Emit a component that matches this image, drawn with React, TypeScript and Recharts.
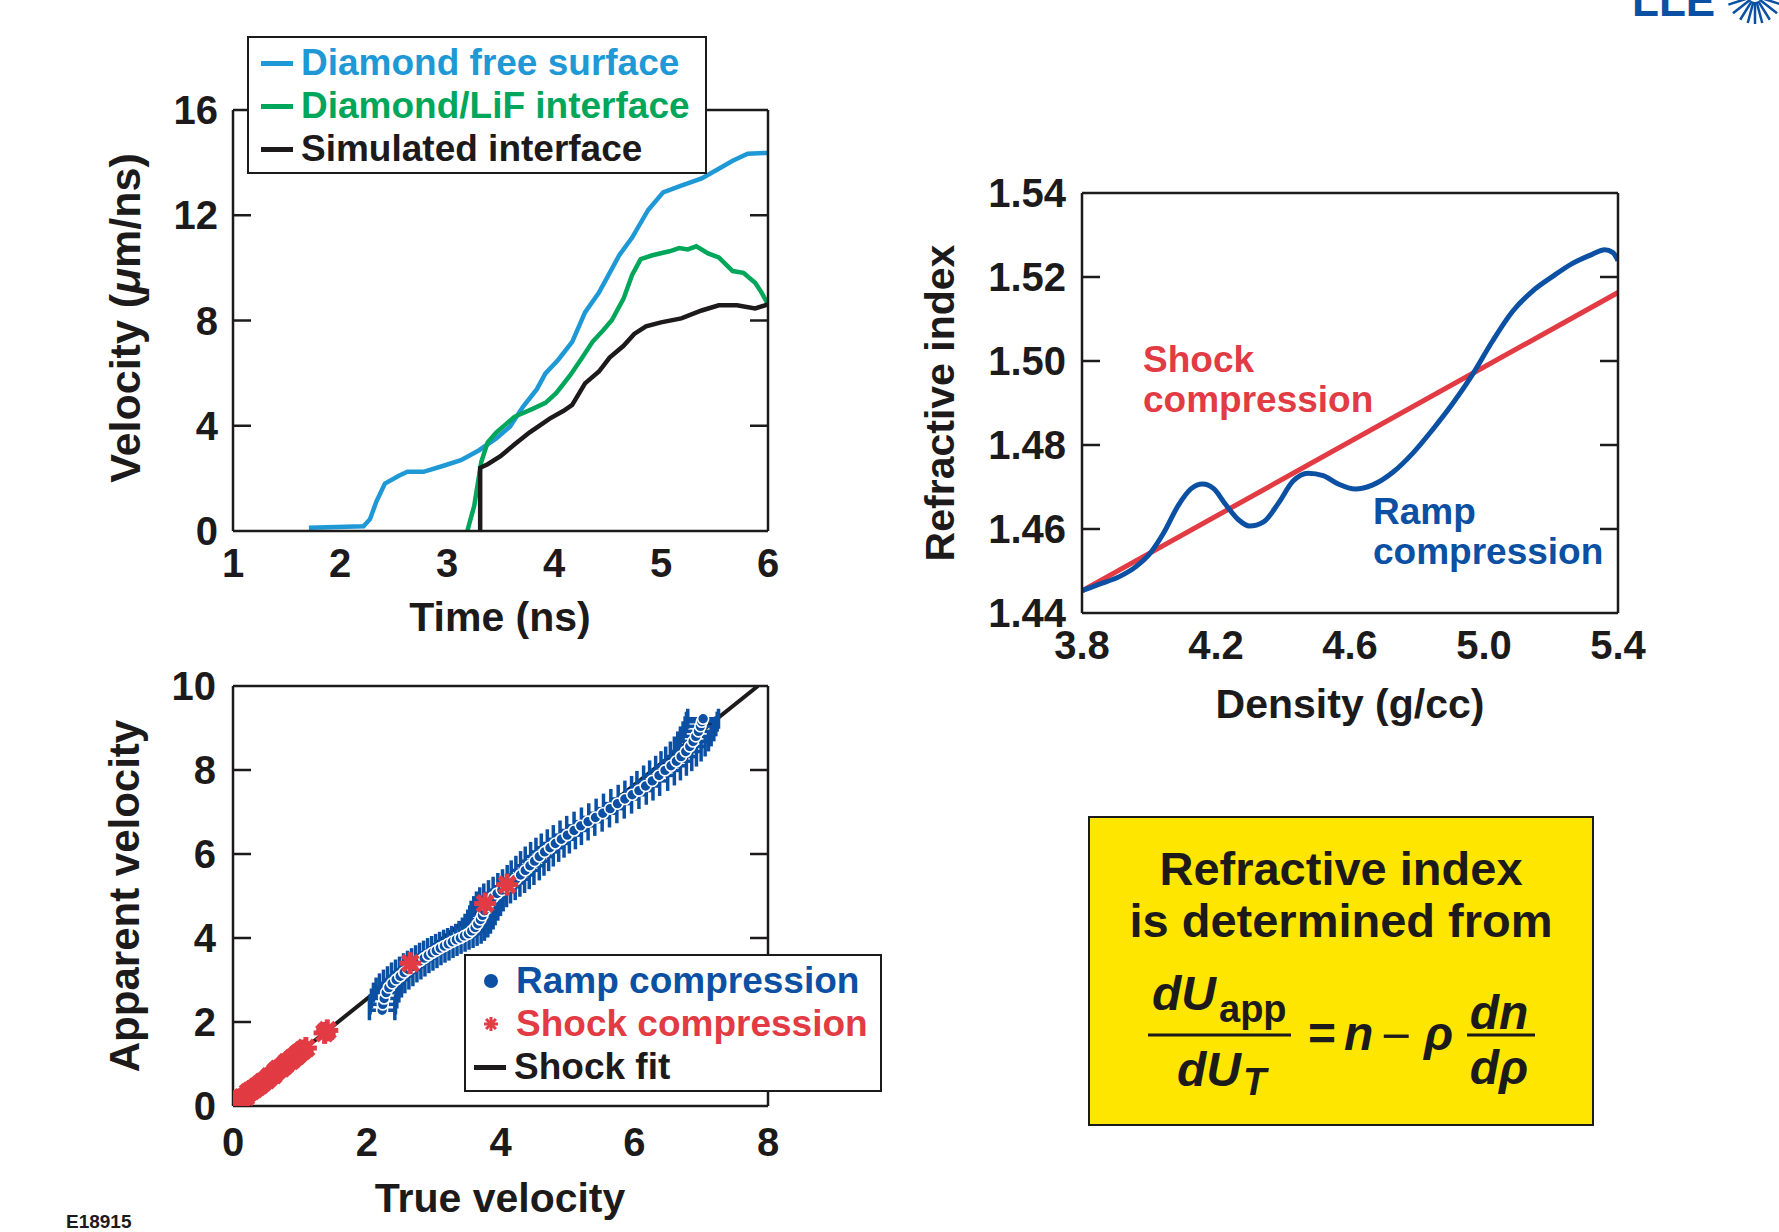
import React from "react";
import { LineChart, Line, XAxis, YAxis, ComposedChart, Scatter, ErrorBar } from "recharts";

// ---- top left: velocity histories ----
const freeSurfaceT = [1.71, 2.22, 2.28, 2.34, 2.42, 2.55, 2.63, 2.78, 2.96, 3.13, 3.3, 3.46, 3.59, 3.71, 3.84, 3.92, 4.04, 4.17, 4.29, 4.42, 4.5, 4.61, 4.73, 4.88, 5.02, 5.17, 5.38, 5.54, 5.67, 5.81, 6.0];
const freeSurfaceV = [0.12, 0.18, 0.45, 1.12, 1.8, 2.1, 2.25, 2.25, 2.47, 2.69, 3.07, 3.52, 3.97, 4.72, 5.39, 5.99, 6.51, 7.19, 8.31, 9.06, 9.66, 10.48, 11.15, 12.2, 12.87, 13.1, 13.4, 13.77, 14.07, 14.34, 14.37];
const lifT = [3.19, 3.255, 3.32, 3.38, 3.46, 3.63, 3.8, 3.92, 4.02, 4.15, 4.25, 4.36, 4.46, 4.54, 4.65, 4.73, 4.81, 4.92, 5.08, 5.17, 5.25, 5.33, 5.44, 5.54, 5.67, 5.77, 5.88, 5.94, 6.0];
const lifV = [0, 0.97, 2.62, 3.37, 3.74, 4.34, 4.64, 4.87, 5.24, 5.91, 6.51, 7.19, 7.63, 8.01, 8.83, 9.73, 10.33, 10.48, 10.63, 10.75, 10.7, 10.82, 10.55, 10.4, 9.88, 9.81, 9.43, 9.06, 8.61];
const simT = [3.31, 3.31, 3.38, 3.5, 3.63, 3.77, 3.96, 4.09, 4.17, 4.29, 4.42, 4.52, 4.65, 4.75, 4.86, 5.0, 5.19, 5.38, 5.54, 5.71, 5.88, 6.0];
const simV = [0, 2.4, 2.54, 2.84, 3.29, 3.74, 4.27, 4.57, 4.79, 5.61, 6.06, 6.59, 7.04, 7.49, 7.78, 7.93, 8.08, 8.38, 8.58, 8.58, 8.46, 8.61];
const timeTicks = [1, 2, 3, 4, 5, 6];
const velTicks = [0, 4, 8, 12, 16];

// ---- top right: refractive index vs density ----
const rampDensity = [3.8, 3.85, 3.91, 3.962, 4.007, 4.044, 4.088, 4.126, 4.16, 4.193, 4.23, 4.267, 4.3, 4.342, 4.386, 4.43, 4.475, 4.52, 4.565, 4.616, 4.668, 4.728, 4.787, 4.847, 4.906, 4.966, 5.025, 5.085, 5.144, 5.204, 5.263, 5.323, 5.36, 5.385, 5.4];
const rampIndex = [1.4453, 1.4468, 1.4486, 1.4511, 1.4546, 1.4591, 1.4657, 1.4696, 1.4707, 1.4696, 1.4657, 1.4622, 1.4607, 1.4617, 1.4661, 1.4714, 1.4733, 1.4727, 1.4707, 1.4695, 1.4705, 1.4735, 1.478, 1.4837, 1.4898, 1.4968, 1.5047, 1.5118, 1.5166, 1.5201, 1.5232, 1.5254, 1.5265, 1.5258, 1.5239];
const shockDensity = [3.8, 5.4];
const shockIndex = [1.4453, 1.5163];
const densityTicks = [3.8, 4.2, 4.6, 5.0, 5.4];
const indexTicks = [1.44, 1.46, 1.48, 1.5, 1.52, 1.54];

// ---- bottom left: apparent vs true velocity ----
const rampX = [2.23, 2.24, 2.26, 2.29, 2.33, 2.38, 2.44, 2.5, 2.56, 2.62, 2.68, 2.74, 2.8, 2.86, 2.92, 2.98, 3.04, 3.1, 3.16, 3.22, 3.28, 3.34, 3.4, 3.46, 3.52, 3.57, 3.62, 3.66, 3.7, 3.73, 3.76, 3.8, 3.84, 3.89, 3.95, 4.02, 4.09, 4.16, 4.23, 4.3, 4.37, 4.44, 4.51, 4.58, 4.66, 4.74, 4.82, 4.91, 5.0, 5.1, 5.2, 5.31, 5.42, 5.53, 5.64, 5.75, 5.86, 5.97, 6.07, 6.17, 6.27, 6.37, 6.46, 6.55, 6.63, 6.7, 6.77, 6.83, 6.88, 6.92, 6.96, 6.99, 7.01, 7.03];
const rampY = [2.28, 2.42, 2.56, 2.7, 2.82, 2.92, 3.01, 3.09, 3.18, 3.25, 3.32, 3.4, 3.46, 3.52, 3.59, 3.65, 3.7, 3.76, 3.81, 3.86, 3.91, 3.96, 4.0, 4.05, 4.1, 4.17, 4.25, 4.34, 4.44, 4.54, 4.65, 4.76, 4.87, 4.97, 5.06, 5.14, 5.22, 5.31, 5.4, 5.5, 5.61, 5.72, 5.83, 5.94, 6.05, 6.15, 6.25, 6.35, 6.45, 6.56, 6.67, 6.77, 6.87, 6.97, 7.08, 7.2, 7.31, 7.41, 7.51, 7.62, 7.74, 7.87, 7.99, 8.1, 8.21, 8.32, 8.44, 8.56, 8.68, 8.8, 8.92, 9.04, 9.15, 9.22];
const rampErr = [
  0.19, 0.19, 0.19, 0.19, 0.19, 0.19, 0.19, 0.19, 0.19, 0.19,
  0.19, 0.19, 0.19, 0.19, 0.19, 0.19, 0.19, 0.19, 0.19, 0.19,
  0.19, 0.19, 0.19, 0.19, 0.19, 0.19, 0.19, 0.19, 0.19, 0.19,
  0.2, 0.2, 0.2, 0.2, 0.2, 0.2, 0.2, 0.2, 0.2, 0.2,
  0.21, 0.21, 0.21, 0.21, 0.21, 0.21, 0.21, 0.21, 0.21, 0.21,
  0.21, 0.21, 0.21, 0.21, 0.21, 0.21, 0.21, 0.21, 0.21, 0.21,
  0.23, 0.23, 0.23, 0.23, 0.23, 0.23, 0.23, 0.23, 0.23, 0.23,
  0.23, 0.23, 0.23, 0.23,
];
const shockX = [0.06, 0.1, 0.14, 0.19, 0.23, 0.27, 0.31, 0.36, 0.4, 0.45, 0.5, 0.55, 0.6, 0.64, 0.68, 0.72, 0.77, 0.81, 0.86, 0.9, 0.95, 0.99, 1.04, 1.09, 1.37, 1.41, 2.65, 3.77, 4.1];
const shockY = [0.05, 0.15, 0.2, 0.22, 0.32, 0.36, 0.4, 0.46, 0.5, 0.57, 0.62, 0.7, 0.74, 0.82, 0.88, 0.9, 0.97, 1.04, 1.08, 1.14, 1.2, 1.26, 1.32, 1.38, 1.74, 1.8, 3.4, 4.82, 5.27];
const fitX = [0, 7.85];
const fitY = [0, 10];
const trueTicks = [0, 2, 4, 6, 8];
const appTicks = [0, 2, 4, 6, 8, 10];

const FONT = "'Liberation Sans', Arial, Helvetica, sans-serif";
const INK = "#1d1a1b";
const SKY = "#1f98d6";
const GREEN = "#00a65a";
const RED = "#e23b43";
const NAVY = "#0b50a2";
const tickStyle = { fontSize: 40, fontWeight: 700, fill: INK, fontFamily: FONT };
const frame = { stroke: INK, strokeWidth: 2.5 };

const rows = (xs: number[], ys: number[], xk: string, yk: string) =>
  xs.map((x, i) => ({ [xk]: x, [yk]: ys[i] }));

// inward ticks on all four sides, plus the top/right frame lines
function frameAxes(xDomain: [number, number], yDomain: [number, number], xInner: number[], yInner: number[]) {
  const common = {
    type: "number" as const,
    allowDataOverflow: true,
    mirror: true,
    tickSize: 18,
    tickFormatter: () => "",
    tickLine: frame,
  };
  return [
    <XAxis key="ft" xAxisId="ft" orientation="top" domain={xDomain} ticks={xInner} axisLine={frame} {...common} />,
    <XAxis key="fb" xAxisId="fb" orientation="bottom" domain={xDomain} ticks={xInner} axisLine={false} {...common} />,
    <YAxis key="fl" yAxisId="fl" orientation="left" domain={yDomain} ticks={yInner} axisLine={false} {...common} />,
    <YAxis key="fr" yAxisId="fr" orientation="right" domain={yDomain} ticks={yInner} axisLine={frame} {...common} />,
  ];
}

function Asterisk({ cx, cy, r, w }: { cx: number; cy: number; r: number; w: number }) {
  const d = r * 0.707;
  return (
    <g stroke={RED} strokeWidth={w} strokeLinecap="butt">
      <line x1={cx - r} y1={cy} x2={cx + r} y2={cy} />
      <line x1={cx} y1={cy - r} x2={cx} y2={cy + r} />
      <line x1={cx - d} y1={cy - d} x2={cx + d} y2={cy + d} />
      <line x1={cx - d} y1={cy + d} x2={cx + d} y2={cy - d} />
    </g>
  );
}

const abs = (left: number, top: number, extra: React.CSSProperties = {}): React.CSSProperties => ({
  position: "absolute",
  left,
  top,
  ...extra,
});

function VTitle({ x, y, text, size }: { x: number; y: number; text: React.ReactNode; size: number }) {
  return (
    <div
      style={abs(x, y, {
        transform: "translate(-50%, -50%) rotate(-90deg)",
        whiteSpace: "nowrap",
        fontSize: size,
        fontWeight: 700,
        color: INK,
      })}
    >
      {text}
    </div>
  );
}

function HTitle({ x, y, text }: { x: number; y: number; text: string }) {
  return (
    <div style={abs(x, y, { transform: "translate(-50%, -50%)", whiteSpace: "nowrap", fontSize: 41, fontWeight: 700, color: INK })}>
      {text}
    </div>
  );
}

function LegendRow({ top, marker, label, color }: { top: number; marker: React.ReactNode; label: string; color: string }) {
  return (
    <div style={abs(0, top - 22, { height: 44, width: "100%", display: "flex", alignItems: "center" })}>
      {marker}
      <span style={{ fontSize: 37, fontWeight: 700, color, whiteSpace: "nowrap" }}>{label}</span>
    </div>
  );
}

const lineMark = (color: string, left: number, gap: number) => (
  <span style={{ display: "inline-block", marginLeft: left, marginRight: gap, width: 32, height: 5, background: color }} />
);

export default function App() {
  const freeSurface = rows(freeSurfaceT, freeSurfaceV, "t", "v");
  const lif = rows(lifT, lifV, "t", "v");
  const sim = rows(simT, simV, "t", "v");
  const ramp = rows(rampDensity, rampIndex, "d", "n");
  const shock = rows(shockDensity, shockIndex, "d", "n");
  const rampPts = rampX.map((x, i) => ({ x, y: rampY[i], ex: rampErr[i] }));
  const shockPts = rows(shockX, shockY, "x", "y");
  const fit = rows(fitX, fitY, "x", "y");

  return (
    <div style={{ position: "absolute", left: 0, top: 0, width: 1779, height: 1232, background: "#fff", fontFamily: FONT, overflow: "hidden" }}>
      {/* velocity history */}
      <div style={abs(0, 0)}>
        <LineChart width={800} height={640} margin={{ top: 110, right: 32, bottom: 9, left: 0 }}>
          <XAxis xAxisId="m" type="number" dataKey="t" domain={[1, 6]} ticks={timeTicks} allowDataOverflow interval={0}
            tick={tickStyle} tickLine={false} axisLine={frame} tickSize={6} tickMargin={12} height={100} />
          <YAxis yAxisId="m" type="number" domain={[0, 16]} ticks={velTicks} allowDataOverflow interval={0}
            tick={tickStyle} tickLine={false} axisLine={frame} tickSize={6} tickMargin={9} width={233} />
          {frameAxes([1, 6], [0, 16], [2, 3, 4, 5], [4, 8, 12])}
          <Line xAxisId="m" yAxisId="m" data={freeSurface} dataKey="v" type="linear" stroke={SKY} strokeWidth={4.5} dot={false} isAnimationActive={false} />
          <Line xAxisId="m" yAxisId="m" data={lif} dataKey="v" type="linear" stroke={GREEN} strokeWidth={4.5} dot={false} isAnimationActive={false} />
          <Line xAxisId="m" yAxisId="m" data={sim} dataKey="v" type="linear" stroke={INK} strokeWidth={4.5} dot={false} isAnimationActive={false} />
        </LineChart>
      </div>

      {/* refractive index */}
      <div style={abs(800, 0)}>
        <LineChart width={979} height={720} margin={{ top: 193, right: 161, bottom: 7, left: 0 }}>
          <XAxis xAxisId="m" type="number" dataKey="d" domain={[3.8, 5.4]} ticks={densityTicks} allowDataOverflow interval={0}
            tickFormatter={(v: number) => v.toFixed(1)} tick={tickStyle} tickLine={false} axisLine={frame} tickSize={6} tickMargin={12} height={100} />
          <YAxis yAxisId="m" type="number" domain={[1.44, 1.54]} ticks={indexTicks} allowDataOverflow interval={0}
            tickFormatter={(v: number) => v.toFixed(2)} tick={tickStyle} tickLine={false} axisLine={frame} tickSize={6} tickMargin={10} width={282} />
          {frameAxes([3.8, 5.4], [1.44, 1.54], [4.2, 4.6, 5.0], [1.46, 1.48, 1.5, 1.52])}
          <Line xAxisId="m" yAxisId="m" data={shock} dataKey="n" type="linear" stroke={RED} strokeWidth={5} dot={false} isAnimationActive={false} />
          <Line xAxisId="m" yAxisId="m" data={ramp} dataKey="n" type="monotone" stroke={NAVY} strokeWidth={5} dot={false} isAnimationActive={false} />
        </LineChart>
      </div>

      {/* apparent vs true velocity */}
      <div style={abs(0, 640)}>
        <ComposedChart width={900} height={592} margin={{ top: 46, right: 132, bottom: 26, left: 0 }}>
          <XAxis xAxisId="m" type="number" dataKey="x" domain={[0, 8]} ticks={trueTicks} allowDataOverflow interval={0}
            tick={tickStyle} tickLine={false} axisLine={frame} tickSize={6} tickMargin={16} height={100} />
          <YAxis yAxisId="m" type="number" dataKey="y" domain={[0, 10]} ticks={appTicks} allowDataOverflow interval={0}
            tick={tickStyle} tickLine={false} axisLine={frame} tickSize={6} tickMargin={11} width={233} />
          {frameAxes([0, 8], [0, 10], [2, 4, 6], [2, 4, 6, 8])}
          <Line xAxisId="m" yAxisId="m" data={fit} dataKey="y" type="linear" stroke={INK} strokeWidth={4} dot={false} isAnimationActive={false} />
          <Scatter xAxisId="m" yAxisId="m" data={rampPts} dataKey="y" isAnimationActive={false}
            shape={(p: any) => <circle cx={p.cx} cy={p.cy} r={5.5} fill={NAVY} stroke="#fff" strokeWidth={1.6} />}>
            <ErrorBar dataKey="ex" direction="x" width={10} stroke={NAVY} strokeWidth={3.5} isAnimationActive={false} />
          </Scatter>
          <Scatter xAxisId="m" yAxisId="m" data={shockPts} dataKey="y" isAnimationActive={false}
            shape={(p: any) => <Asterisk cx={p.cx} cy={p.cy} r={11} w={5} />} />
        </ComposedChart>
      </div>

      {/* axis titles */}
      <VTitle x={125} y={318} size={43} text={<>Velocity (<span style={{ fontStyle: "italic" }}>μ</span>m/ns)</>} />
      <HTitle x={500} y={617} text="Time (ns)" />
      <VTitle x={940} y={403} size={41} text="Refractive index" />
      <HTitle x={1350} y={704} text="Density (g/cc)" />
      <VTitle x={125} y={896} size={42} text="Apparent velocity" />
      <HTitle x={500} y={1198} text="True velocity" />

      {/* legend: velocity history */}
      <div style={abs(247, 36, { width: 460, height: 138, boxSizing: "border-box", border: `2px solid ${INK}`, background: "#fff" })}>
        <LegendRow top={25} marker={lineMark(SKY, 12, 8)} label="Diamond free surface" color={SKY} />
        <LegendRow top={68} marker={lineMark(GREEN, 12, 8)} label="Diamond/LiF interface" color={GREEN} />
        <LegendRow top={111} marker={lineMark(INK, 12, 8)} label="Simulated interface" color={INK} />
      </div>

      {/* legend: apparent velocity */}
      <div style={abs(464, 954, { width: 418, height: 138, boxSizing: "border-box", border: `2px solid ${INK}`, background: "#fff" })}>
        <LegendRow top={25}
          marker={<svg width={50} height={44} style={{ flex: "none" }}><circle cx={25} cy={22} r={7} fill={NAVY} /></svg>}
          label="Ramp compression" color={NAVY} />
        <LegendRow top={68}
          marker={<svg width={50} height={44} style={{ flex: "none" }}><Asterisk cx={25} cy={22} r={7} w={3} /></svg>}
          label="Shock compression" color={RED} />
        <LegendRow top={111} marker={lineMark(INK, 8, 8)} label="Shock fit" color={INK} />
      </div>

      {/* curve annotations */}
      <div style={abs(1143, 340, { fontSize: 37, fontWeight: 700, color: RED, lineHeight: "40px", whiteSpace: "nowrap" })}>
        Shock<br />compression
      </div>
      <div style={abs(1373, 492, { fontSize: 37, fontWeight: 700, color: NAVY, lineHeight: "40px", whiteSpace: "nowrap" })}>
        Ramp<br />compression
      </div>

      {/* yellow note */}
      <div style={abs(1088, 816, { width: 506, height: 310, boxSizing: "border-box", border: `2px solid ${INK}`, background: "#ffe600" })}>
        <svg width={506} height={310} style={{ position: "absolute", left: -2, top: -2 }} fontFamily={FONT} fill={INK}>
          <text x={253} y={69} textAnchor="middle" fontSize={47} fontWeight={700}>Refractive index</text>
          <text x={253} y={121} textAnchor="middle" fontSize={47} fontWeight={700}>is determined from</text>
          <text x={64} y={194} fontSize={48} fontWeight={700} fontStyle="italic">dU</text>
          <text x={131} y={206} fontSize={38} fontWeight={700}>app</text>
          <line x1={60} y1={219} x2={203} y2={219} stroke={INK} strokeWidth={3} />
          <text x={89} y={270} fontSize={48} fontWeight={700} fontStyle="italic">dU</text>
          <text x={155} y={279} fontSize={38} fontWeight={700} fontStyle="italic">T</text>
          <text x={220} y={234} fontSize={48} fontWeight={700}>=</text>
          <text x={256} y={234} fontSize={48} fontWeight={700} fontStyle="italic">n</text>
          <text x={293} y={236} fontSize={48} textLength={30} lengthAdjust="spacingAndGlyphs">−</text>
          <text x={336} y={234} fontSize={48} fontWeight={700} fontStyle="italic">ρ</text>
          <text x={411} y={213} textAnchor="middle" fontSize={48} fontWeight={700} fontStyle="italic">dn</text>
          <line x1={379} y1={219} x2={447} y2={219} stroke={INK} strokeWidth={3} />
          <text x={411} y={268} textAnchor="middle" fontSize={48} fontWeight={700} fontStyle="italic">dρ</text>
        </svg>
      </div>

      <div style={abs(66, 1211, { fontSize: 19, fontWeight: 700, color: INK })}>E18915</div>

      {/* LLE mark, cut by the top edge as in the slide */}
      <svg width={179} height={40} style={abs(1600, 0)}>
        <text x={32} y={16} fontSize={44} fontWeight={700} fill={NAVY} fontFamily={FONT}>LLE</text>
        <g stroke={NAVY} strokeWidth={2.5}>
          {[18, 38, 58, 75, 90, 105, 122, 142, 162].map((a) => {
            const r = (a * Math.PI) / 180;
            return <line key={a} x1={155 + 6 * Math.cos(r)} y1={-4 + 6 * Math.sin(r)} x2={155 + 28 * Math.cos(r)} y2={-4 + 28 * Math.sin(r)} />;
          })}
        </g>
      </svg>
    </div>
  );
}
